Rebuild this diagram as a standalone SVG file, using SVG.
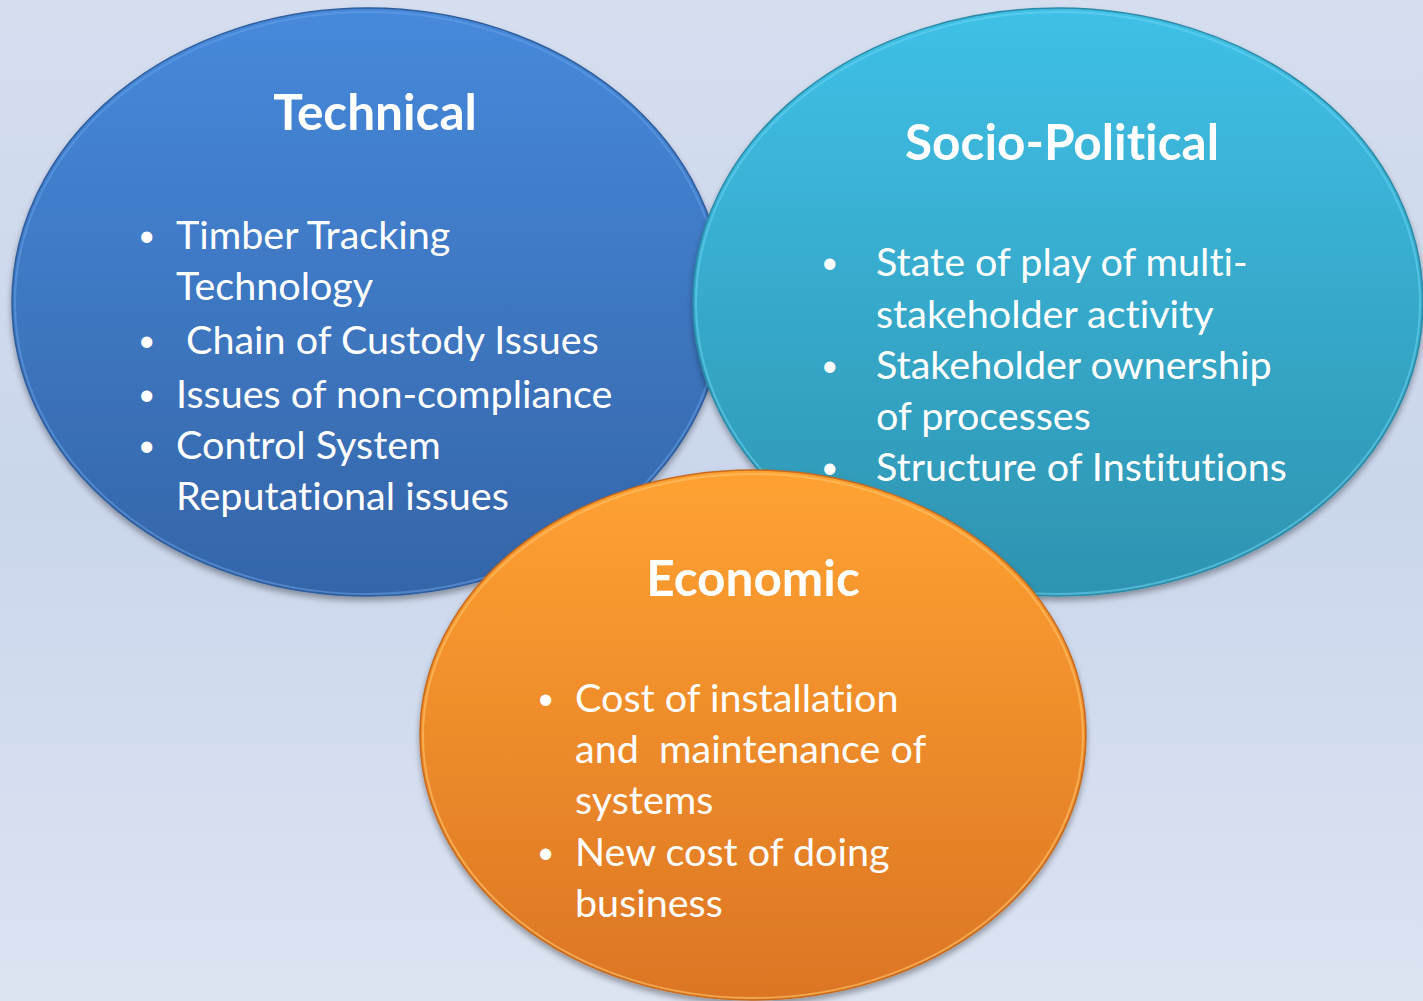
<svg xmlns="http://www.w3.org/2000/svg" width="1423" height="1001" viewBox="0 0 1423 1001">
<defs>
<linearGradient id="bg" x1="0" y1="0" x2="0" y2="1">
<stop offset="0" stop-color="#d5deef"/>
<stop offset="0.5" stop-color="#cad6ec"/>
<stop offset="1" stop-color="#dce4f2"/>
</linearGradient>
<linearGradient id="gBlue" x1="0" y1="0" x2="0" y2="1">
<stop offset="0" stop-color="#4689db"/>
<stop offset="1" stop-color="#3565a8"/>
</linearGradient>
<linearGradient id="gCyan" x1="0" y1="0" x2="0" y2="1">
<stop offset="0" stop-color="#3fc0e6"/>
<stop offset="1" stop-color="#2e93b0"/>
</linearGradient>
<linearGradient id="gOrange" x1="0" y1="0" x2="0" y2="1">
<stop offset="0" stop-color="#ffa232"/>
<stop offset="1" stop-color="#dc7524"/>
</linearGradient>
<filter id="shadow" x="-10%" y="-10%" width="120%" height="125%">
<feGaussianBlur in="SourceAlpha" stdDeviation="3"/>
<feOffset dx="0" dy="4" result="b"/>
<feComponentTransfer><feFuncA type="linear" slope="0.35"/></feComponentTransfer>
<feMerge><feMergeNode/><feMergeNode in="SourceGraphic"/></feMerge>
</filter>
</defs>
<style>
.title{font-family:Lato,"Liberation Sans",sans-serif;font-weight:bold;font-size:49.5px;fill:#ffffff;text-anchor:middle;font-variant-ligatures:none}
.txt{font-family:Lato,"Liberation Sans",sans-serif;font-size:39.5px;fill:#ffffff;font-variant-ligatures:none}
.b{font-size:30px}
.rim{fill:none;stroke-width:2}
</style>
<rect x="0" y="0" width="1423" height="1001" fill="url(#bg)"/>
<g id="technical">
<ellipse cx="368" cy="302" rx="356" ry="294" fill="url(#gBlue)" stroke="#2f5d9c" stroke-width="1.5" filter="url(#shadow)"/>
<ellipse class="rim" cx="368" cy="303" rx="353" ry="291" stroke="#6aa3ea" stroke-opacity="0.5"/>
<text class="title" x="375" y="130">Technical</text>
<text class="txt"><tspan class="b" x="138" y="246">•</tspan><tspan x="176" y="249">Timber Tracking</tspan><tspan x="176" y="300">Technology</tspan><tspan class="b" x="138" y="351">•</tspan><tspan x="186" y="354">Chain of Custody Issues</tspan><tspan class="b" x="138" y="405">•</tspan><tspan x="176" y="408">Issues of non-compliance</tspan><tspan class="b" x="138" y="456">•</tspan><tspan x="176" y="459">Control System</tspan><tspan x="176" y="510">Reputational issues</tspan></text>
</g>
<g id="socio-political">
<ellipse cx="1058" cy="302" rx="365" ry="294" fill="url(#gCyan)" stroke="#2a8aa6" stroke-width="1.5" filter="url(#shadow)"/>
<ellipse class="rim" cx="1058" cy="303" rx="362" ry="291" stroke="#6fd8f5" stroke-opacity="0.5"/>
<text class="title" x="1062" y="160">Socio-Political</text>
<text class="txt"><tspan class="b" x="821" y="273">•</tspan><tspan x="876" y="276">State of play of multi-</tspan><tspan x="876" y="328">stakeholder activity</tspan><tspan class="b" x="821" y="376">•</tspan><tspan x="876" y="379">Stakeholder ownership</tspan><tspan x="876" y="430">of processes</tspan><tspan class="b" x="821" y="478">•</tspan><tspan x="876" y="481">Structure of Institutions</tspan></text>
</g>
<g id="economic">
<ellipse cx="753" cy="735" rx="333" ry="265" fill="url(#gOrange)" stroke="#c76a1e" stroke-width="1.5" filter="url(#shadow)"/>
<ellipse class="rim" cx="753" cy="736" rx="330" ry="262" stroke="#ffc56a" stroke-opacity="0.6"/>
<text class="title" x="753" y="596">Economic</text>
<text class="txt"><tspan class="b" x="537" y="709">•</tspan><tspan x="575" y="712">Cost of installation</tspan><tspan x="575" y="763">and&#160; maintenance of</tspan><tspan x="575" y="814">systems</tspan><tspan class="b" x="537" y="863">•</tspan><tspan x="575" y="866">New cost of doing</tspan><tspan x="575" y="917">business</tspan></text>
</g>
<g id="connectors"/>
</svg>
